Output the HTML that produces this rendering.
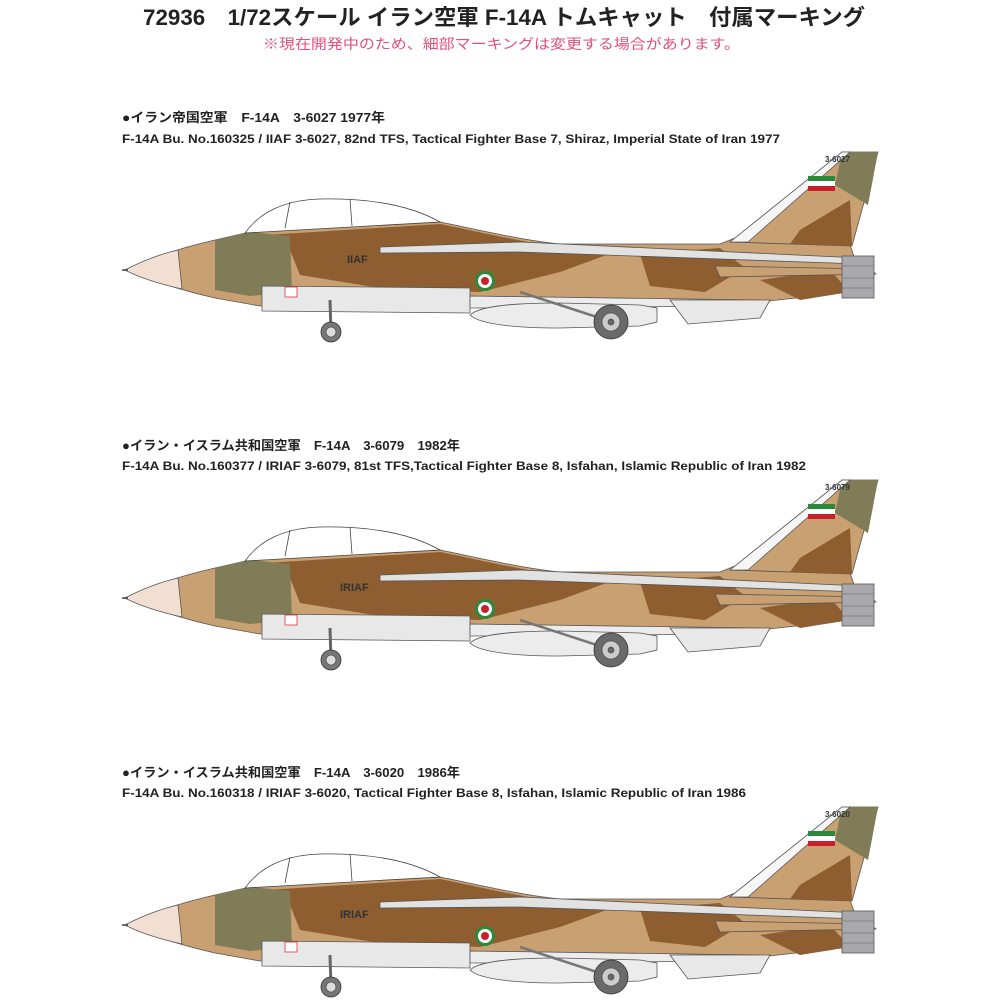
<!DOCTYPE html>
<html><head><meta charset="utf-8"><style>
html,body{margin:0;padding:0;background:#fff;}
svg{display:block;}
text{font-family:"Liberation Sans","Noto Sans CJK JP",sans-serif;font-weight:bold;}
</style></head><body>
<svg width="1000" height="1000" viewBox="0 0 1000 1000" xmlns="http://www.w3.org/2000/svg">
<defs>
<g id="ac" stroke="#555" stroke-width="0.8">
  <!-- fuselage -->
  <path d="M125,270 C150,258 180,248 215,240 L250,232 L440,222 C470,228 520,240 560,244 L720,244 L735,238 L850,245 L856,262 L850,292 L760,302 L400,306 L260,306 L215,298 C180,290 150,280 125,270 Z" fill="#c9a071"/>
  <!-- camo brown -->
  <path d="M250,236 L440,224 C480,232 530,244 560,246 L620,250 L560,272 L480,292 L380,288 L300,275 L290,250 Z" fill="#8e5e30" stroke="none"/>
  <path d="M640,254 L720,248 L745,268 L705,292 L650,286 Z" fill="#8e5e30" stroke="none"/>
  <path d="M760,280 L830,270 L850,292 L800,300 Z" fill="#8e5e30" stroke="none"/>
  <!-- olive near cockpit -->
  <path d="M215,240 L250,232 L290,236 L292,292 L250,296 L215,290 Z" fill="#7f7c57" stroke="none"/>
  <!-- nose cone -->
  <path d="M125,270 C140,262 160,254 178,250 L182,289 C160,284 140,278 125,270 Z" fill="#f3dfd2"/>
  <!-- canopy -->
  <path d="M245,233 C260,212 285,200 320,199 C370,198 410,205 440,222 Z" fill="#fff" stroke="#444"/>
  <line x1="290" y1="202" x2="285" y2="228" stroke="#444"/>
  <line x1="350" y1="199" x2="352" y2="226" stroke="#444"/>
  <!-- tail -->
  <polygon points="730,242 842,152 878,152 852,246" fill="#c9a071"/>
  <polygon points="842,152 878,152 868,205 835,185" fill="#7f7c57" stroke="none"/>
  <polygon points="800,230 850,200 852,246 790,244" fill="#8e5e30" stroke="none"/>
  <polygon points="730,242 842,152 850,152 748,242" fill="#f6f6f6"/>
  <!-- wing glove stripe -->
  <polygon points="380,247 520,242 860,258 860,264 520,252 380,253" fill="#e2e2e2"/>
  <!-- intake / lower grey -->
  <path d="M262,286 L470,288 L470,313 L262,311 Z" fill="#e8e8e8"/>
  <path d="M470,296 L760,300 L760,306 L470,308 Z" fill="#ececec"/>
  <rect x="285" y="287" width="12" height="10" fill="#fff" stroke="#d33"/>
  <!-- ventral fin -->
  <polygon points="670,300 770,300 760,318 688,324" fill="#e8e8e8"/>
  <!-- drop tank -->
  <path d="M470,315 C480,305 520,303 560,303 L640,305 L657,308 L657,322 L640,326 L560,328 C520,328 480,325 470,315 Z" fill="#ececec"/>
  <!-- stabilizer -->
  <polygon points="715,266 870,269 876,274 720,277" fill="#c9a071"/>
  <!-- exhaust -->
  <rect x="842" y="256" width="32" height="42" fill="#a9a9ad"/>
  <line x1="842" y1="266" x2="874" y2="266" stroke="#777"/>
  <line x1="842" y1="278" x2="874" y2="278" stroke="#777"/>
  <line x1="842" y1="288" x2="874" y2="288" stroke="#777"/>
  <!-- probe -->
  <line x1="122" y1="270" x2="128" y2="270" stroke="#444" stroke-width="1.5"/>
  <!-- main gear strut -->
  <line x1="520" y1="292" x2="606" y2="320" stroke="#777" stroke-width="2.5"/>
  <!-- nose gear -->
  <line x1="330" y1="300" x2="331" y2="332" stroke="#666" stroke-width="3"/>
  <circle cx="331" cy="332" r="10" fill="#777" stroke="#333"/>
  <circle cx="331" cy="332" r="5" fill="#ddd"/>
  <!-- main wheel -->
  <circle cx="611" cy="322" r="17" fill="#6a6a6a" stroke="#333"/>
  <circle cx="611" cy="322" r="9" fill="#ccc"/>
  <circle cx="611" cy="322" r="3" fill="#666"/>
  <!-- roundel -->
  <circle cx="485" cy="281" r="10" fill="#2a8a3a" stroke="none"/>
  <circle cx="485" cy="281" r="7" fill="#fff" stroke="none"/>
  <circle cx="485" cy="281" r="4" fill="#c8202a" stroke="none"/>
  <!-- flag -->
  <rect x="808" y="176" width="27" height="5" fill="#2a8a3a" stroke="none"/>
  <rect x="808" y="181" width="27" height="5" fill="#fff" stroke="none"/>
  <rect x="808" y="186" width="27" height="5" fill="#c8202a" stroke="none"/>
</g>
</defs>

<text x="143" y="25" font-size="22" textLength="722" lengthAdjust="spacingAndGlyphs" fill="#222">72936　1/72スケール イラン空軍 F-14A トムキャット　付属マーキング</text>
<text x="263" y="49" font-size="14" textLength="477" lengthAdjust="spacingAndGlyphs" fill="#e0507a" style="font-weight:normal">※現在開発中のため、細部マーキングは変更する場合があります。</text>

<text x="122" y="122" font-size="13" textLength="263" lengthAdjust="spacingAndGlyphs" fill="#222">●イラン帝国空軍　F-14A　3-6027 1977年</text>
<text x="122" y="143" font-size="12" textLength="658" lengthAdjust="spacingAndGlyphs" fill="#222">F-14A Bu. No.160325 / IIAF 3-6027, 82nd TFS, Tactical Fighter Base 7, Shiraz, Imperial State of Iran 1977</text>
<use href="#ac"/>
<text x="347" y="263" font-size="11" fill="#333">IIAF</text>
<text x="825" y="162" font-size="8" fill="#333">3-6027</text>

<text x="122" y="450" font-size="13" textLength="338" lengthAdjust="spacingAndGlyphs" fill="#222">●イラン・イスラム共和国空軍　F-14A　3-6079　1982年</text>
<text x="122" y="470" font-size="12" textLength="684" lengthAdjust="spacingAndGlyphs" fill="#222">F-14A Bu. No.160377 / IRIAF 3-6079, 81st TFS,Tactical Fighter Base 8, Isfahan, Islamic Republic of Iran 1982</text>
<use href="#ac" transform="translate(0,328)"/>
<text x="340" y="591" font-size="11" fill="#333">IRIAF</text>
<text x="825" y="490" font-size="8" fill="#333">3-6079</text>

<text x="122" y="777" font-size="13" textLength="338" lengthAdjust="spacingAndGlyphs" fill="#222">●イラン・イスラム共和国空軍　F-14A　3-6020　1986年</text>
<text x="122" y="797" font-size="12" textLength="624" lengthAdjust="spacingAndGlyphs" fill="#222">F-14A Bu. No.160318 / IRIAF 3-6020, Tactical Fighter Base 8, Isfahan, Islamic Republic of Iran 1986</text>
<use href="#ac" transform="translate(0,655)"/>
<text x="340" y="918" font-size="11" fill="#333">IRIAF</text>
<text x="825" y="817" font-size="8" fill="#333">3-6020</text>
</svg>
</body></html>
